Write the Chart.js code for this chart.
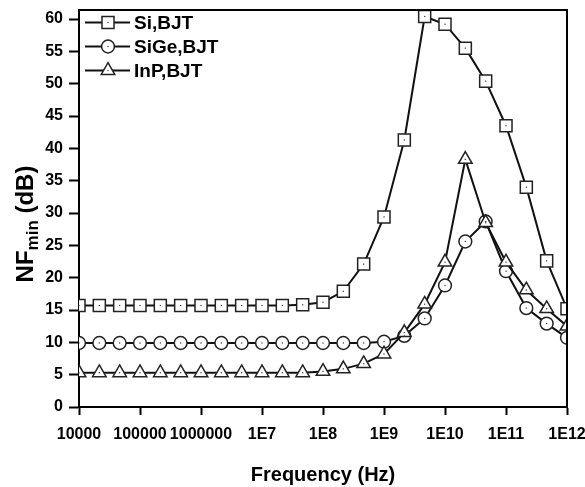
<!DOCTYPE html>
<html>
<head>
<meta charset="utf-8">
<script src="https://cdn.jsdelivr.net/npm/chart.js@4/dist/chart.umd.min.js"></script>
<style>
  html, body { margin: 0; padding: 0; background: #fff; }
  #wrap { width: 585px; height: 487px; }
</style>
</head>
<body>
<div id="wrap"><canvas id="c" width="585" height="487"></canvas></div>
<script>
// ---- data ----
const frequencies = [1e4, 2.154e4, 4.642e4, 1e5, 2.154e5, 4.642e5, 1e6, 2.154e6, 4.642e6,
  1e7, 2.154e7, 4.642e7, 1e8, 2.154e8, 4.642e8, 1e9, 2.154e9, 4.642e9,
  1e10, 2.154e10, 4.642e10, 1e11, 2.154e11, 4.642e11, 1e12];
const siBJT   = [15.7, 15.7, 15.7, 15.7, 15.7, 15.7, 15.7, 15.7, 15.7, 15.7, 15.7, 15.8,
  16.2, 17.9, 22.1, 29.4, 41.3, 60.4, 59.2, 55.5, 50.4, 43.5, 34.0, 22.6, 15.2];
const siGeBJT = [9.9, 9.9, 9.9, 9.9, 9.9, 9.9, 9.9, 9.9, 9.9, 9.9, 9.9, 9.9, 9.9, 9.9, 9.9,
  10.1, 11.0, 13.7, 18.8, 25.6, 28.7, 21.0, 15.3, 12.9, 10.7];
const inpBJT  = [5.3, 5.3, 5.3, 5.3, 5.3, 5.3, 5.3, 5.3, 5.3, 5.3, 5.3, 5.3,
  5.5, 5.9, 6.7, 8.2, 11.5, 15.9, 22.4, 38.3, 28.5, 22.4, 18.1, 15.2, 12.5];
const seriesLabels = ['Si,BJT', 'SiGe,BJT', 'InP,BJT'];
const xTickValues = [1e4, 1e5, 1e6, 1e7, 1e8, 1e9, 1e10, 1e11, 1e12];
const xTickLabels = ['10000', '100000', '1000000', '1E7', '1E8', '1E9', '1E10', '1E11', '1E12'];
const yTickStep = 5;

const FONT = "'Liberation Sans', Arial, sans-serif";

function pts(ys) { return frequencies.map((f, i) => ({ x: f, y: ys[i] })); }

const styles = [
  { pointStyle: 'rect', pointRadius: 8.5 },
  { pointStyle: 'circle', pointRadius: 6.4 },
  { pointStyle: 'triangle', pointRadius: 7.8 }
];

const datasets = [siBJT, siGeBJT, inpBJT].map((ys, i) => ({
  label: seriesLabels[i],
  data: pts(ys),
  borderColor: '#111',
  borderWidth: 2,
  pointStyle: styles[i].pointStyle,
  pointRadius: styles[i].pointRadius,
  pointHoverRadius: styles[i].pointRadius,
  pointBackgroundColor: '#fff',
  pointBorderColor: '#222',
  pointBorderWidth: 1.5,
  tension: 0,
  order: 2 - i
}));

// frame, y-title with subscript, legend, centre dots
const decor = {
  id: 'decor',
  afterDatasetsDraw(chart) {
    const ctx = chart.ctx;
    const a = chart.chartArea;
    ctx.save();
    // centre dots of markers
    chart.data.datasets.forEach((ds, i) => {
      const meta = chart.getDatasetMeta(i);
      meta.data.forEach(p => {
        if (p.x < a.left - 1 || p.x > a.right + 1) return;
        ctx.fillStyle = '#333';
        ctx.fillRect(p.x - 0.6, p.y - 0.6, 1.2, 1.2);
      });
    });
    // top & right frame
    ctx.strokeStyle = '#000';
    ctx.lineWidth = 2;
    ctx.beginPath();
    ctx.moveTo(a.left, a.top);
    ctx.lineTo(a.right, a.top);
    ctx.lineTo(a.right, a.bottom);
    ctx.stroke();
    // legend
    const rowY0 = 22.5, rowStep = 24, lx0 = 85, lx1 = 130, mx = 108, tx = 134;
    chart.data.datasets.forEach((ds, i) => {
      const y = rowY0 + i * rowStep;
      ctx.strokeStyle = '#111';
      ctx.lineWidth = 2;
      ctx.beginPath();
      ctx.moveTo(lx0, y); ctx.lineTo(lx1, y); ctx.stroke();
      ctx.fillStyle = '#fff';
      ctx.strokeStyle = '#222';
      ctx.lineWidth = 1.5;
      Chart.helpers.drawPoint(ctx, { pointStyle: ds.pointStyle, radius: ds.pointRadius, rotation: 0, borderWidth: 1.5 }, mx, y);
      ctx.fillStyle = '#333';
      ctx.fillRect(mx - 0.6, y - 0.6, 1.2, 1.2);
      ctx.fillStyle = '#000';
      ctx.font = 'bold 19px ' + FONT;
      ctx.textBaseline = 'middle';
      ctx.textAlign = 'left';
      ctx.fillText(ds.label, tx, y + 1);
    });
    // y title: NF_min (dB)
    ctx.translate(24, 224);
    ctx.rotate(-Math.PI / 2);
    ctx.fillStyle = '#000';
    ctx.textBaseline = 'alphabetic';
    ctx.textAlign = 'left';
    const big = 'bold 24px ' + FONT, small = 'bold 17px ' + FONT;
    ctx.font = big; const w1 = ctx.measureText('NF').width; const w3 = ctx.measureText(' (dB)').width;
    ctx.font = small; const w2 = ctx.measureText('min').width;
    let x = -(w1 + w2 + w3) / 2;
    ctx.font = big; ctx.fillText('NF', x, 8.5); x += w1;
    ctx.font = small; ctx.fillText('min', x, 14); x += w2;
    ctx.font = big; ctx.fillText(' (dB)', x, 8.5);
    ctx.restore();
  }
};

new Chart(document.getElementById('c'), {
  type: 'line',
  data: { datasets },
  options: {
    responsive: false,
    animation: false,
    events: [],
    layout: { padding: { left: 0, right: 18, top: 5, bottom: 0 } },
    plugins: { legend: { display: false }, tooltip: { enabled: false }, title: { display: false } },
    scales: {
      x: {
        type: 'logarithmic',
        min: 1e4,
        max: 1e12,
        afterBuildTicks: (s) => { s.ticks = xTickValues.map(v => ({ value: v, major: true })); },
        afterFit: (s) => { s.height = 80; s.paddingLeft = 0; s.paddingRight = 0; },
        ticks: {
          autoSkip: false,
          maxRotation: 0,
          minRotation: 0,
          padding: 10,
          color: '#000',
          font: { family: FONT, size: 16, weight: 'bold' },
          callback: (v, i) => xTickLabels[i]
        },
        grid: { display: true, drawOnChartArea: false, drawTicks: true, tickLength: 8, color: '#000', tickColor: '#000', tickWidth: 2 },
        border: { display: true, color: '#000', width: 2 },
        title: {
          display: true,
          text: 'Frequency (Hz)',
          color: '#000',
          font: { family: FONT, size: 20, weight: 'bold' },
          padding: { top: 0, bottom: 0 }
        }
      },
      y: {
        type: 'linear',
        min: 0,
        max: 61.4,
        afterFit: (s) => { s.width = 79; s.paddingTop = 0; s.paddingBottom = 0; },
        ticks: {
          stepSize: yTickStep,
          includeBounds: false,
          padding: 6,
          color: '#000',
          font: { family: FONT, size: 16, weight: 'bold' }
        },
        grid: { display: true, drawOnChartArea: false, drawTicks: true, tickLength: 10, color: '#000', tickColor: '#000', tickWidth: 2 },
        border: { display: true, color: '#000', width: 2 }
      }
    }
  },
  plugins: [decor]
});
</script>
</body>
</html>
